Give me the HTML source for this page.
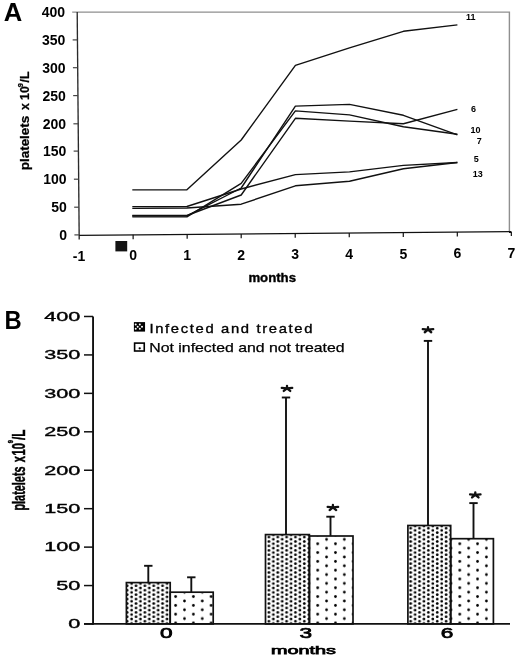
<!DOCTYPE html>
<html><head><meta charset="utf-8"><style>
html,body{margin:0;padding:0;background:#fff;}
svg{display:block;will-change:transform;}
text{font-family:"Liberation Sans", sans-serif;fill:#000;}
</style></head><body>
<svg width="520" height="658" viewBox="0 0 520 658">
<rect width="520" height="658" fill="#fff"/>
<path d="M72.2 12.1 H509.4 V231.7" fill="none" stroke="#8f8f8f" stroke-width="1.4"/>
<line x1="77.2" y1="12" x2="79.2" y2="239.6" stroke="#2a2a2a" stroke-width="1.35"/>
<text x="65.00" y="16.90" text-anchor="end" font-size="14" font-weight="bold">400</text>
<line x1="72.65" y1="39.9" x2="77.45" y2="39.9" stroke="#444" stroke-width="1.2"/>
<text x="65.25" y="44.80" text-anchor="end" font-size="14" font-weight="bold">350</text>
<line x1="72.90" y1="67.7" x2="77.70" y2="67.7" stroke="#444" stroke-width="1.2"/>
<text x="65.50" y="72.60" text-anchor="end" font-size="14" font-weight="bold">300</text>
<line x1="73.15" y1="95.6" x2="77.95" y2="95.6" stroke="#444" stroke-width="1.2"/>
<text x="65.75" y="100.50" text-anchor="end" font-size="14" font-weight="bold">250</text>
<line x1="73.40" y1="123.8" x2="78.20" y2="123.8" stroke="#444" stroke-width="1.2"/>
<text x="66.00" y="128.70" text-anchor="end" font-size="14" font-weight="bold">200</text>
<line x1="73.65" y1="151.1" x2="78.45" y2="151.1" stroke="#444" stroke-width="1.2"/>
<text x="66.25" y="156.00" text-anchor="end" font-size="14" font-weight="bold">150</text>
<line x1="73.90" y1="179.2" x2="78.70" y2="179.2" stroke="#444" stroke-width="1.2"/>
<text x="66.50" y="184.10" text-anchor="end" font-size="14" font-weight="bold">100</text>
<line x1="74.15" y1="207.2" x2="78.95" y2="207.2" stroke="#444" stroke-width="1.2"/>
<text x="66.75" y="212.10" text-anchor="end" font-size="14" font-weight="bold">50</text>
<line x1="74.40" y1="234.9" x2="79.20" y2="234.9" stroke="#444" stroke-width="1.2"/>
<text x="67.00" y="239.80" text-anchor="end" font-size="14" font-weight="bold">0</text>
<line x1="79.20" y1="235.3" x2="511.3" y2="231.67" stroke="#111" stroke-width="1.2"/>
<text x="79.10" y="260.54" text-anchor="middle" font-size="14" font-weight="bold">-1</text>
<line x1="133.13" y1="234.85" x2="133.13" y2="239.15" stroke="#111" stroke-width="1.2"/>
<text x="133.13" y="260.20" text-anchor="middle" font-size="14" font-weight="bold">0</text>
<line x1="187.16" y1="234.39" x2="187.16" y2="238.69" stroke="#111" stroke-width="1.2"/>
<text x="187.16" y="259.86" text-anchor="middle" font-size="14" font-weight="bold">1</text>
<line x1="241.19" y1="233.94" x2="241.19" y2="238.24" stroke="#111" stroke-width="1.2"/>
<text x="241.19" y="259.52" text-anchor="middle" font-size="14" font-weight="bold">2</text>
<line x1="295.22" y1="233.48" x2="295.22" y2="237.78" stroke="#111" stroke-width="1.2"/>
<text x="295.22" y="259.18" text-anchor="middle" font-size="14" font-weight="bold">3</text>
<line x1="349.25" y1="233.03" x2="349.25" y2="237.33" stroke="#111" stroke-width="1.2"/>
<text x="349.25" y="258.84" text-anchor="middle" font-size="14" font-weight="bold">4</text>
<line x1="403.28" y1="232.58" x2="403.28" y2="236.88" stroke="#111" stroke-width="1.2"/>
<text x="403.28" y="258.50" text-anchor="middle" font-size="14" font-weight="bold">5</text>
<line x1="457.31" y1="232.12" x2="457.31" y2="236.42" stroke="#111" stroke-width="1.2"/>
<text x="457.31" y="258.16" text-anchor="middle" font-size="14" font-weight="bold">6</text>
<line x1="511.34" y1="231.67" x2="511.34" y2="235.97" stroke="#111" stroke-width="1.2"/>
<text x="511.34" y="257.82" text-anchor="middle" font-size="14" font-weight="bold">7</text>
<rect x="115.4" y="241" width="11.8" height="10.4" fill="#141414"/>
<text x="248.4" y="281.5" font-size="12" font-weight="bold" textLength="47.6" lengthAdjust="spacingAndGlyphs" stroke="#000" stroke-width="0.35">months</text>
<g transform="translate(28.6,0) rotate(-90)" font-weight="bold" stroke="#000" stroke-width="0.25"><text x="-170.2" y="0" font-size="12.3" textLength="54.4" lengthAdjust="spacingAndGlyphs">platelets</text><text x="-110.0" y="0" font-size="12.3">x</text><text x="-99.9" y="0" font-size="12.3">10</text><text x="-87.2" y="-5.9" font-size="7.4">9</text><text x="-82.5" y="0" font-size="12.3">/L</text></g>
<text x="3.7" y="21.3" font-size="25.6" font-weight="bold">A</text>
<polyline points="132.3,189.9 186.9,189.8 241.2,140.0 295.4,65.4 349.5,47.8 403.4,31.3 457.4,24.9" fill="none" stroke="#111" stroke-width="1.4" stroke-linejoin="round"/>
<polyline points="132.3,206.6 186.9,206.5 241.2,189.0 295.4,174.6 349.5,171.9 403.4,165.4 457.4,162.5" fill="none" stroke="#111" stroke-width="1.4" stroke-linejoin="round"/>
<polyline points="132.3,208.4 186.9,208.0 241.2,204.2 295.4,185.8 349.5,181.3 403.4,168.7 457.4,162.5" fill="none" stroke="#111" stroke-width="1.4" stroke-linejoin="round"/>
<polyline points="132.3,215.9 186.9,215.9 241.2,188.0 295.4,106.1 349.5,104.4 403.4,115.3 457.4,134.8" fill="none" stroke="#111" stroke-width="1.4" stroke-linejoin="round"/>
<polyline points="132.3,216.9 186.9,216.9 241.2,183.4 295.4,110.9 349.5,114.9 403.4,126.7 457.4,134.3" fill="none" stroke="#111" stroke-width="1.4" stroke-linejoin="round"/>
<polyline points="132.3,215.5 186.9,215.5 241.2,195.0 295.4,118.3 349.5,121.1 403.4,123.8 457.4,109.4" fill="none" stroke="#111" stroke-width="1.4" stroke-linejoin="round"/>
<text x="466.0" y="19.7" font-size="9" font-weight="bold">11</text>
<text x="471.0" y="111.9" font-size="9" font-weight="bold">6</text>
<text x="470.6" y="132.6" font-size="9" font-weight="bold">10</text>
<text x="476.8" y="144.3" font-size="9" font-weight="bold">7</text>
<text x="473.8" y="161.8" font-size="9" font-weight="bold">5</text>
<text x="472.8" y="176.9" font-size="9" font-weight="bold">13</text>
<text transform="translate(4.6,329) scale(0.93,1)" font-size="25.6" font-weight="bold">B</text>
<line x1="93.05" y1="316.5" x2="93.05" y2="624.8" stroke="#111" stroke-width="1.9"/>
<line x1="84" y1="623.9" x2="510" y2="623.9" stroke="#111" stroke-width="1.9"/>
<line x1="84" y1="624.00" x2="93" y2="624.00" stroke="#111" stroke-width="1.5"/>
<text transform="translate(80.3,628.30) scale(1.8,1)" text-anchor="end" font-size="12" stroke="#000" stroke-width="0.35">0</text>
<line x1="84" y1="585.56" x2="93" y2="585.56" stroke="#111" stroke-width="1.5"/>
<text transform="translate(80.3,589.86) scale(1.8,1)" text-anchor="end" font-size="12" stroke="#000" stroke-width="0.35">50</text>
<line x1="84" y1="547.12" x2="93" y2="547.12" stroke="#111" stroke-width="1.5"/>
<text transform="translate(80.3,551.42) scale(1.8,1)" text-anchor="end" font-size="12" stroke="#000" stroke-width="0.35">100</text>
<line x1="84" y1="508.68" x2="93" y2="508.68" stroke="#111" stroke-width="1.5"/>
<text transform="translate(80.3,512.98) scale(1.8,1)" text-anchor="end" font-size="12" stroke="#000" stroke-width="0.35">150</text>
<line x1="84" y1="470.24" x2="93" y2="470.24" stroke="#111" stroke-width="1.5"/>
<text transform="translate(80.3,474.54) scale(1.8,1)" text-anchor="end" font-size="12" stroke="#000" stroke-width="0.35">200</text>
<line x1="84" y1="431.80" x2="93" y2="431.80" stroke="#111" stroke-width="1.5"/>
<text transform="translate(80.3,436.10) scale(1.8,1)" text-anchor="end" font-size="12" stroke="#000" stroke-width="0.35">250</text>
<line x1="84" y1="393.36" x2="93" y2="393.36" stroke="#111" stroke-width="1.5"/>
<text transform="translate(80.3,397.66) scale(1.8,1)" text-anchor="end" font-size="12" stroke="#000" stroke-width="0.35">300</text>
<line x1="84" y1="354.92" x2="93" y2="354.92" stroke="#111" stroke-width="1.5"/>
<text transform="translate(80.3,359.22) scale(1.8,1)" text-anchor="end" font-size="12" stroke="#000" stroke-width="0.35">350</text>
<line x1="84" y1="316.48" x2="93" y2="316.48" stroke="#111" stroke-width="1.5"/>
<text transform="translate(80.3,320.78) scale(1.8,1)" text-anchor="end" font-size="12" stroke="#000" stroke-width="0.35">400</text>
<g transform="translate(25.3,0) rotate(-90)" font-weight="bold" stroke="#000" stroke-width="0.45"><text x="-510.6" y="0" font-size="17.5" textLength="44.2" lengthAdjust="spacingAndGlyphs">platelets</text><text x="-462.2" y="0" font-size="17.5" textLength="6.2" lengthAdjust="spacingAndGlyphs">x</text><text x="-455.4" y="0" font-size="17.5" textLength="12.4" lengthAdjust="spacingAndGlyphs">10</text><text x="-443.2" y="-12.6" font-size="6.4" textLength="3.2" lengthAdjust="spacingAndGlyphs">9</text><text x="-440.0" y="0" font-size="17.5" textLength="10.4" lengthAdjust="spacingAndGlyphs">/L</text></g>
<defs>
<pattern id="dense" patternUnits="userSpaceOnUse" x="266.69" y="534.79" width="8.86" height="4.43">
 <circle cx="2.215" cy="2.215" r="1.38" fill="#000"/>
 <circle cx="6.645" cy="4.43" r="1.38" fill="#000"/>
 <circle cx="6.645" cy="0" r="1.38" fill="#000"/>
</pattern>
<pattern id="sparse" patternUnits="userSpaceOnUse" x="313.26" y="539.4" width="17.76" height="8.8">
 <circle cx="4.44" cy="4.4" r="1.35" fill="#000"/>
 <circle cx="13.32" cy="0" r="1.35" fill="#000"/>
 <circle cx="13.32" cy="8.8" r="1.35" fill="#000"/>
</pattern>
</defs>
<line x1="148.3" y1="565.8" x2="148.3" y2="582.6" stroke="#111" stroke-width="1.9"/>
<line x1="144.10000000000002" y1="565.8" x2="152.5" y2="565.8" stroke="#111" stroke-width="1.9"/>
<rect x="126.4" y="582.6" width="43.80" height="41.30" fill="url(#dense)" stroke="#111" stroke-width="1.7"/>
<line x1="191.3" y1="577.3" x2="191.3" y2="592.2" stroke="#111" stroke-width="1.9"/>
<line x1="187.10000000000002" y1="577.3" x2="195.5" y2="577.3" stroke="#111" stroke-width="1.9"/>
<rect x="170.2" y="592.2" width="43.00" height="31.70" fill="url(#sparse)" stroke="#111" stroke-width="1.7"/>
<line x1="286.0" y1="397.5" x2="286.0" y2="534.6" stroke="#111" stroke-width="1.9"/>
<line x1="281.8" y1="397.5" x2="290.2" y2="397.5" stroke="#111" stroke-width="1.9"/>
<rect x="265.5" y="534.6" width="43.90" height="89.30" fill="url(#dense)" stroke="#111" stroke-width="1.7"/>
<line x1="330.5" y1="516.7" x2="330.5" y2="536.0" stroke="#111" stroke-width="1.9"/>
<line x1="326.3" y1="516.7" x2="334.7" y2="516.7" stroke="#111" stroke-width="1.9"/>
<rect x="309.4" y="536.0" width="43.60" height="87.90" fill="url(#sparse)" stroke="#111" stroke-width="1.7"/>
<line x1="428.0" y1="340.9" x2="428.0" y2="525.5" stroke="#111" stroke-width="1.9"/>
<line x1="423.8" y1="340.9" x2="432.2" y2="340.9" stroke="#111" stroke-width="1.9"/>
<rect x="407.9" y="525.5" width="42.80" height="98.40" fill="url(#dense)" stroke="#111" stroke-width="1.7"/>
<line x1="473.5" y1="503.1" x2="473.5" y2="538.7" stroke="#111" stroke-width="1.9"/>
<line x1="469.3" y1="503.1" x2="477.7" y2="503.1" stroke="#111" stroke-width="1.9"/>
<rect x="450.7" y="538.7" width="42.70" height="85.20" fill="url(#sparse)" stroke="#111" stroke-width="1.7"/>
<path d="M287.00,388.28 L287.00,385.87 M287.00,388.28 L292.23,387.81 M287.00,388.28 L290.23,390.94 M287.00,388.28 L283.77,390.94 M287.00,388.28 L281.77,387.81" stroke="#111" stroke-width="2.3" stroke-linecap="round"/>
<path d="M332.90,507.38 L332.90,504.97 M332.90,507.38 L338.13,506.91 M332.90,507.38 L336.13,510.04 M332.90,507.38 L329.67,510.04 M332.90,507.38 L327.67,506.91" stroke="#111" stroke-width="2.3" stroke-linecap="round"/>
<path d="M428.00,329.58 L428.00,327.17 M428.00,329.58 L433.23,329.11 M428.00,329.58 L431.23,332.24 M428.00,329.58 L424.77,332.24 M428.00,329.58 L422.77,329.11" stroke="#111" stroke-width="2.3" stroke-linecap="round"/>
<path d="M475.30,494.78 L475.30,492.37 M475.30,494.78 L480.53,494.31 M475.30,494.78 L478.53,497.44 M475.30,494.78 L472.07,497.44 M475.30,494.78 L470.07,494.31" stroke="#111" stroke-width="2.3" stroke-linecap="round"/>
<text transform="translate(166.2,638.2) scale(1.55,1)" text-anchor="middle" font-size="14.6" stroke="#000" stroke-width="0.7">0</text>
<text transform="translate(305.8,638.2) scale(1.55,1)" text-anchor="middle" font-size="14.6" stroke="#000" stroke-width="0.7">3</text>
<text transform="translate(447.1,638.2) scale(1.55,1)" text-anchor="middle" font-size="14.6" stroke="#000" stroke-width="0.7">6</text>
<text x="271.0" y="654.2" font-size="11.8" textLength="65.0" lengthAdjust="spacingAndGlyphs" stroke="#000" stroke-width="0.75">months</text>
<rect x="133.9" y="322.1" width="11.15" height="9.5" fill="#000"/>
<circle cx="135.7" cy="324.6" r="1.0" fill="#fff"/>
<circle cx="139.8" cy="324.6" r="1.0" fill="#fff"/>
<circle cx="137.7" cy="326.7" r="1.0" fill="#fff"/>
<circle cx="142.0" cy="326.7" r="1.0" fill="#fff"/>
<circle cx="135.7" cy="328.8" r="1.0" fill="#fff"/>
<circle cx="139.8" cy="328.8" r="1.0" fill="#fff"/>
<rect x="134.6" y="343.1" width="9.65" height="7.9" fill="#fff" stroke="#000" stroke-width="1.6"/>
<circle cx="139.7" cy="348.3" r="1.15" fill="#000"/>
<text transform="translate(149.4,333.1) scale(1.12,1)" font-size="13.2" textLength="145.6" lengthAdjust="spacing" stroke="#000" stroke-width="0.35">Infected and treated</text>
<text x="149.3" y="352.4" font-size="13.2" textLength="195.3" lengthAdjust="spacingAndGlyphs" stroke="#000" stroke-width="0.25">Not infected and not treated</text>
</svg>
</body></html>
